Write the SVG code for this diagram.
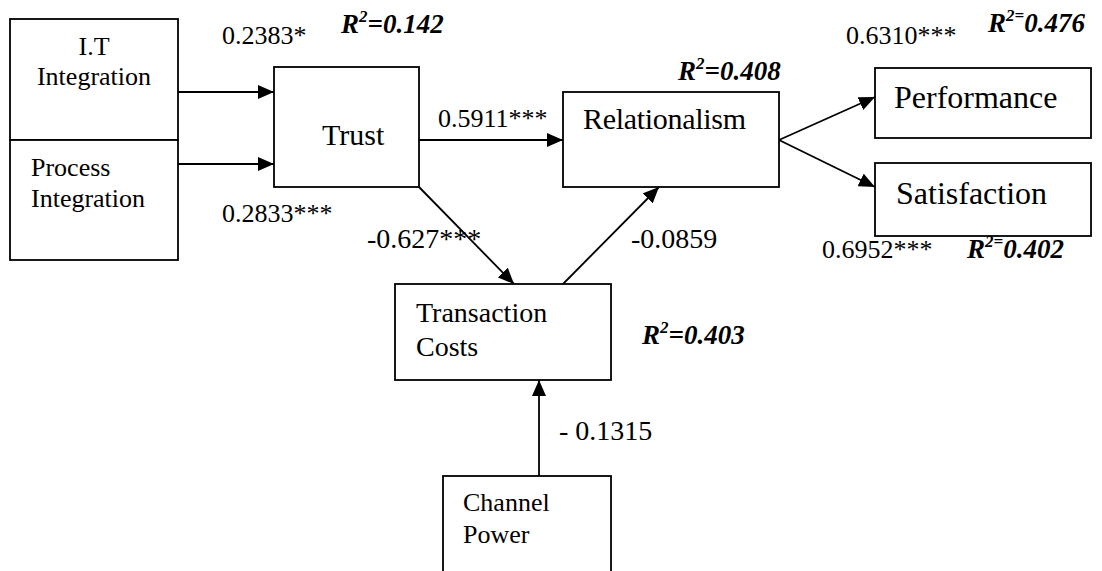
<svg xmlns="http://www.w3.org/2000/svg" width="1102" height="571" viewBox="0 0 1102 571">
<style>
.box{fill:#fff;stroke:#000;stroke-width:1.8}
.t{font-family:"Liberation Serif","Times New Roman",serif;fill:#000}
.s26{font-size:26px}
.s28{font-size:28px}
.s30{font-size:30px}
.s32{font-size:32px}
.r2{font-family:"Liberation Serif","Times New Roman",serif;font-size:27px;font-weight:bold;font-style:italic;fill:#000}
.sup{font-size:17px}
.c{stroke:#000;stroke-width:1.8;fill:none;marker-end:url(#ah)}
</style>
<defs>
<marker id="ah" markerUnits="userSpaceOnUse" markerWidth="16" markerHeight="14" refX="16" refY="7" orient="auto">
<path d="M0,0 L16,7 L0,14 z" fill="#000"/>
</marker>
</defs>
<rect width="1102" height="571" fill="#fff"/>
<g id="connectors">
<line class="c" x1="178" y1="92" x2="274" y2="92"/>
<line class="c" x1="178" y1="164" x2="274" y2="164"/>
<line class="c" x1="419" y1="140" x2="563" y2="140"/>
<line class="c" x1="779" y1="140" x2="875" y2="97"/>
<line class="c" x1="779" y1="140" x2="875" y2="187"/>
<line class="c" x1="419" y1="187" x2="514" y2="284"/>
<line class="c" x1="563" y1="284" x2="659" y2="187"/>
<line class="c" x1="539" y1="476" x2="539" y2="380"/>
</g>
<g id="it-integration">
<rect class="box" x="10" y="19" width="168" height="121"/>
<text class="t s26" x="94" y="55" text-anchor="middle">I.T</text>
<text class="t s26" x="94" y="85" text-anchor="middle">Integration</text>
</g>
<g id="process-integration">
<rect class="box" x="10" y="140" width="168" height="120"/>
<text class="t s26" x="31" y="176">Process</text>
<text class="t s26" x="31" y="207">Integration</text>
</g>
<g id="trust">
<rect class="box" x="274" y="67" width="145" height="120"/>
<text class="t s30" x="322" y="145">Trust</text>
</g>
<g id="relationalism">
<rect class="box" x="563" y="92" width="216" height="95"/>
<text class="t s30" x="583" y="129" textLength="163">Relationalism</text>
</g>
<g id="performance">
<rect class="box" x="875" y="68" width="216" height="70"/>
<text class="t s32" x="894" y="108">Performance</text>
</g>
<g id="satisfaction">
<rect class="box" x="875" y="163" width="216" height="73"/>
<text class="t s32" x="896" y="204">Satisfaction</text>
</g>
<g id="transaction-costs">
<rect class="box" x="395" y="284" width="216" height="96"/>
<text class="t s28" x="416" y="322">Transaction</text>
<text class="t s28" x="416" y="356">Costs</text>
</g>
<g id="channel-power">
<rect class="box" x="443" y="476" width="168" height="110"/>
<text class="t s26" x="463" y="511">Channel</text>
<text class="t s26" x="463" y="543">Power</text>
</g>
<g id="labels">
<text class="t s26" x="222" y="44">0.2383*</text>
<text class="t s26" x="222" y="222">0.2833***</text>
<text class="t s26" x="438" y="127">0.5911***</text>
<text class="t s26" x="846" y="44">0.6310***</text>
<text class="t s26" x="822" y="258">0.6952***</text>
<text class="t s28" x="367" y="248">-0.627***</text>
<text class="t s28" x="631" y="248">-0.0859</text>
<text class="t s28" x="559" y="440">- 0.1315</text>
<text class="r2" x="341" y="33">R<tspan class="sup" dy="-11">2</tspan><tspan dy="11">=0.142</tspan></text>
<text class="r2" x="678" y="80">R<tspan class="sup" dy="-11">2</tspan><tspan dy="11">=0.408</tspan></text>
<text class="r2" x="642" y="344">R<tspan class="sup" dy="-11">2</tspan><tspan dy="11">=0.403</tspan></text>
<text class="r2" x="988" y="32">R<tspan class="sup" dy="-11">2=</tspan><tspan dy="11">0.476</tspan></text>
<text class="r2" x="967" y="258">R<tspan class="sup" dy="-11">2=</tspan><tspan dy="11">0.402</tspan></text>
</g>
</svg>
